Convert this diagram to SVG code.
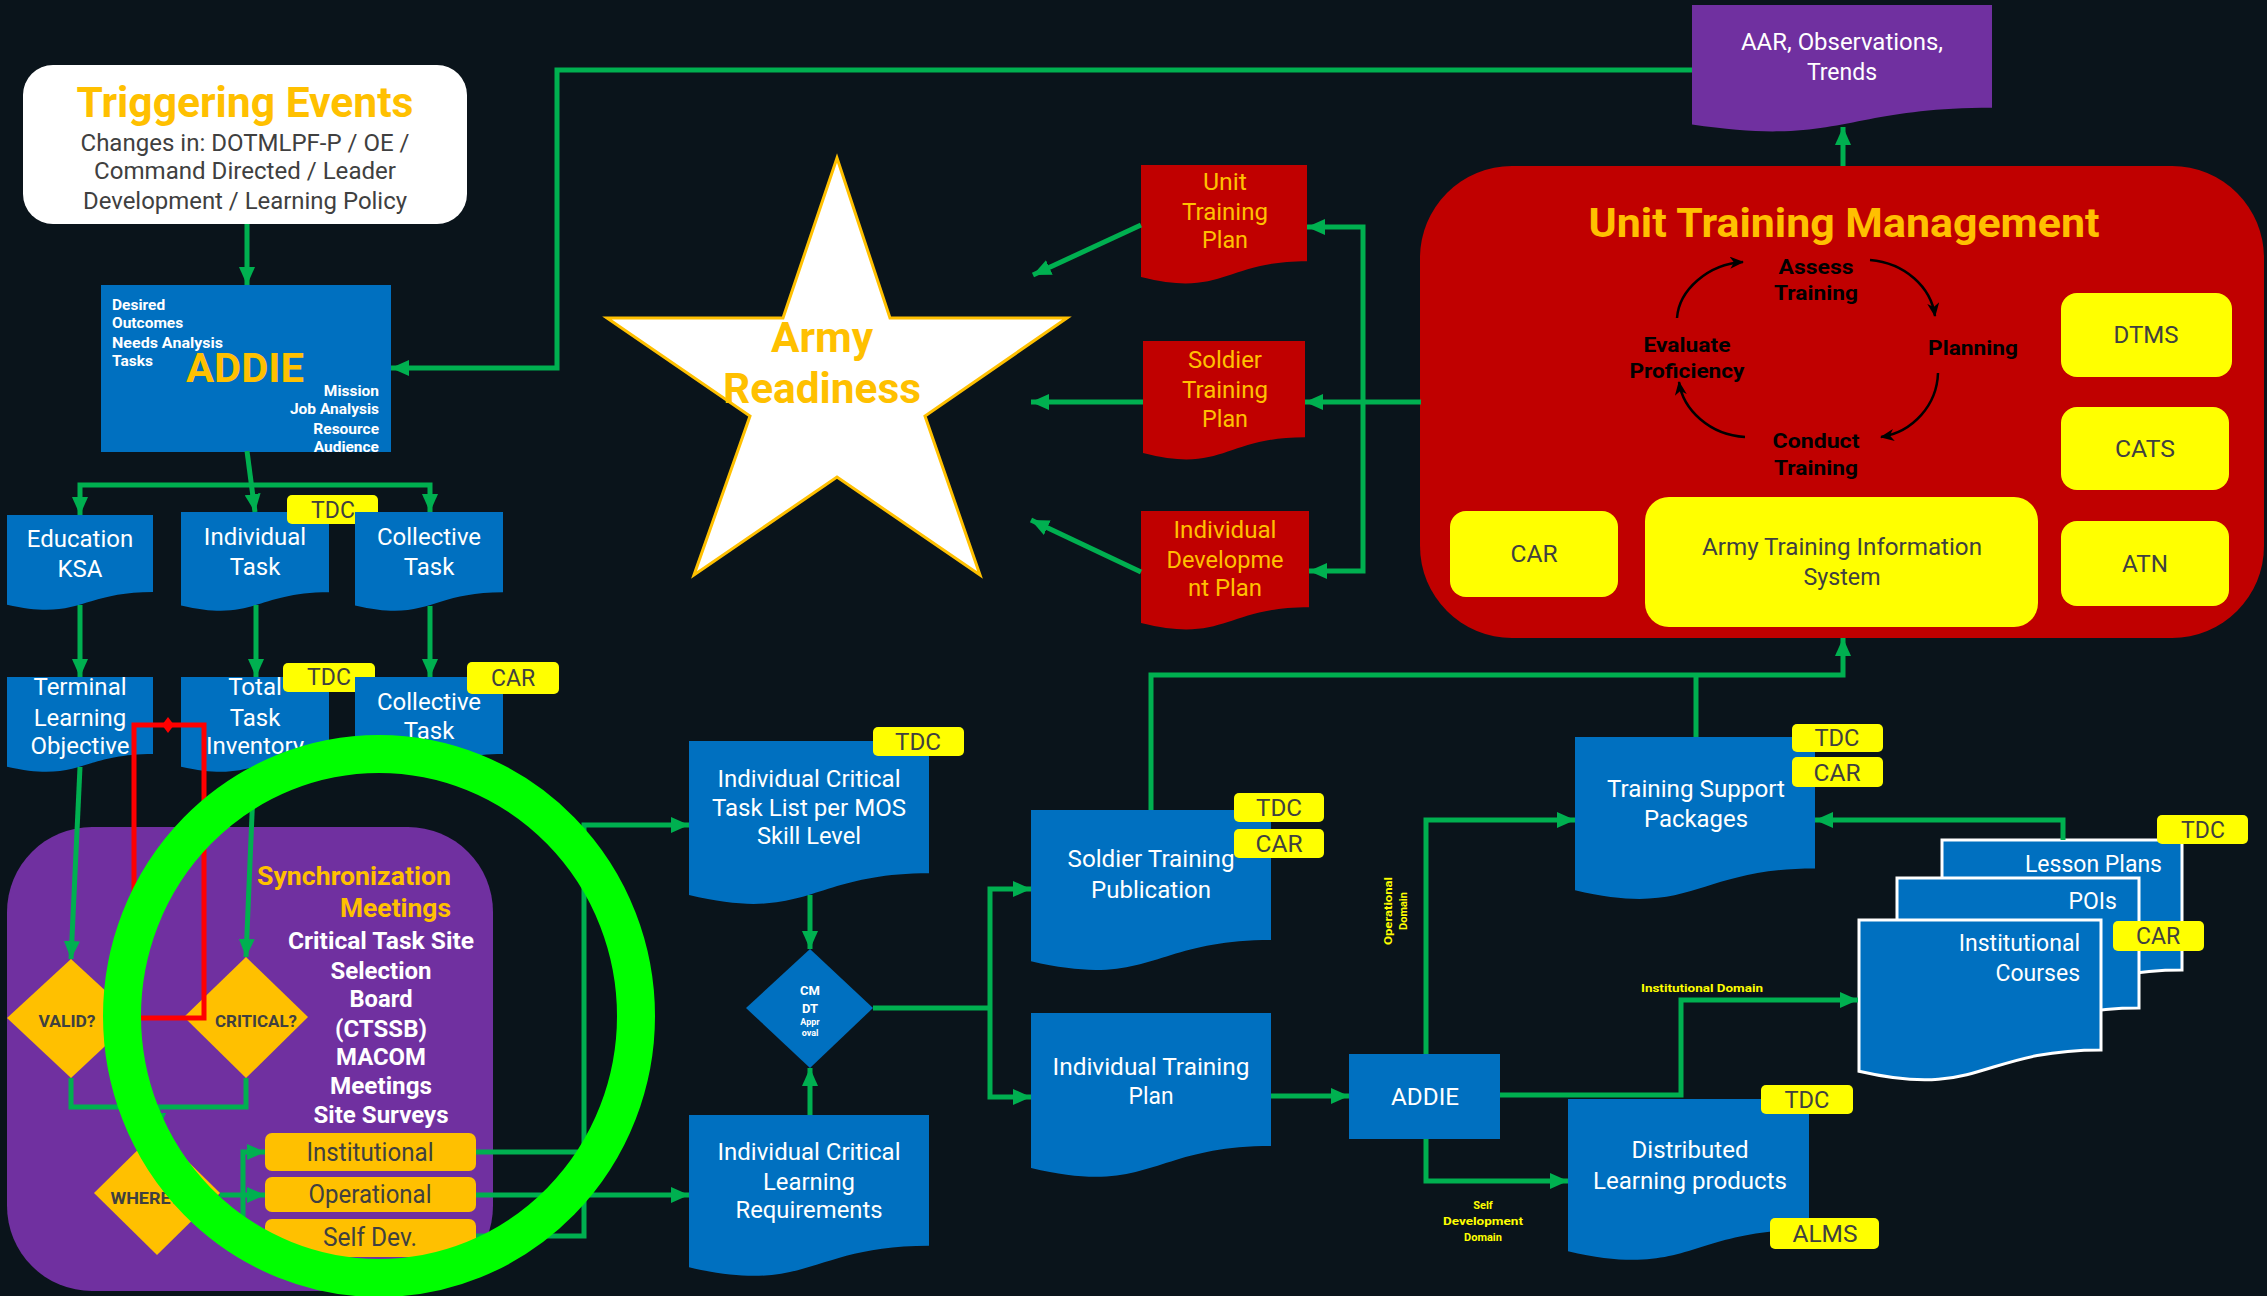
<svg xmlns="http://www.w3.org/2000/svg" width="2267" height="1296" viewBox="0 0 2267 1296">
<style>
  text { font-family: Roboto, "Liberation Sans", sans-serif; }
  .w { fill: #FFFFFF; }
  .dk { fill: #404040; }
  .gold { fill: #FFC000; }
  .yl { fill: #FFFF00; }
  .b { font-weight: bold; }
  .m { text-anchor: middle; }
  .e { text-anchor: end; }
  .doc { fill: #0070C0; }
  .reddoc { fill: #C00000; }
  .stack { fill: #0070C0; stroke: #FFFFFF; stroke-width: 3; }
  .tag { fill: #FFFF00; }
  .gtag { fill: #FFC000; }
  .conn path { fill: none; stroke: #00B050; stroke-width: 5; }
  .cyc { fill: none; stroke: #000000; stroke-width: 2.5; }
</style>
<defs>
  <marker id="ah" markerUnits="userSpaceOnUse" markerWidth="18" markerHeight="16" refX="18" refY="8" orient="auto">
    <path d="M0,0 L18,8 L0,16 Z" fill="#00B050"/>
  </marker>
  <marker id="bh" markerUnits="userSpaceOnUse" markerWidth="14" markerHeight="12" refX="13" refY="6" orient="auto">
    <path d="M0,0 L14,6 L0,12 L4,6 Z" fill="#000000"/>
  </marker>
</defs>

<rect width="2267" height="1296" fill="#0A141B"/>

<!-- Triggering events -->
<g id="triggering-events">
  <rect x="23" y="65" width="444" height="159" rx="30" fill="#FFFFFF"/>
  <text class="gold b m" x="245" y="117" font-size="42" textLength="337" lengthAdjust="spacingAndGlyphs">Triggering Events</text>
  <text class="dk m" x="245" y="151" font-size="24" textLength="329" lengthAdjust="spacingAndGlyphs">Changes in: DOTMLPF-P / OE /</text>
  <text class="dk m" x="245" y="179" font-size="24" textLength="302" lengthAdjust="spacingAndGlyphs">Command Directed / Leader</text>
  <text class="dk m" x="245" y="209" font-size="24" textLength="324" lengthAdjust="spacingAndGlyphs">Development / Learning Policy</text>
</g>

<!-- ADDIE (top) -->
<g id="addie-main">
  <rect x="101" y="285" width="290" height="167" fill="#0070C0"/>
  <g class="w b" font-size="15.5">
    <text x="112" y="310">Desired</text>
    <text x="112" y="328">Outcomes</text>
    <text x="112" y="348" textLength="111" lengthAdjust="spacingAndGlyphs">Needs Analysis</text>
    <text x="112" y="366">Tasks</text>
    <text class="e" x="379" y="396">Mission</text>
    <text class="e" x="379" y="414">Job Analysis</text>
    <text class="e" x="379" y="434">Resource</text>
    <text class="e" x="379" y="452">Audience</text>
  </g>
  <text class="gold b" x="186" y="382" font-size="41" textLength="118" lengthAdjust="spacingAndGlyphs">ADDIE</text>
</g>

<!-- AAR -->
<g id="aar">
  <path fill="#7030A0" d="M1692,5H1992V107.7C1842,107.7 1842,146.7 1692,124.6Z"/>
  <text class="w m" x="1842" y="50" font-size="23" textLength="202" lengthAdjust="spacingAndGlyphs">AAR, Observations,</text>
  <text class="w m" x="1842" y="80" font-size="23">Trends</text>
</g>

<!-- Left column documents -->
<g id="education-ksa">
  <path class="doc" d="M7,515H153V592C80,592 80,621.3 7,604.7Z"/>
  <text class="w m" x="80" y="547" font-size="24">Education</text>
  <text class="w m" x="80" y="577" font-size="24">KSA</text>
</g>
<g id="individual-task">
  <path class="doc" d="M181,512H329V592.2C255,592.2 255,622.7 181,605.4Z"/>
  <text class="w m" x="255" y="545" font-size="24">Individual</text>
  <text class="w m" x="255" y="575" font-size="24">Task</text>
  <rect class="tag" x="287" y="495" width="91" height="29" rx="5"/>
  <text class="dk m" x="333" y="518" font-size="23">TDC</text>
</g>
<g id="collective-task">
  <path class="doc" d="M355,512H503V592.2C429,592.2 429,622.7 355,605.4Z"/>
  <text class="w m" x="429" y="545" font-size="24">Collective</text>
  <text class="w m" x="429" y="575" font-size="24">Task</text>
</g>
<g id="terminal-learning-objective">
  <path class="doc" d="M7,677H153V754C80,754 80,783.3 7,766.7Z"/>
  <text class="w m" x="80" y="695" font-size="24">Terminal</text>
  <text class="w m" x="80" y="726" font-size="24">Learning</text>
  <text class="w m" x="80" y="754" font-size="24">Objective</text>
</g>
<g id="total-task-inventory">
  <path class="doc" d="M181,677H329V754C255,754 255,783.3 181,766.7Z"/>
  <text class="w m" x="255" y="695" font-size="24">Total</text>
  <text class="w m" x="255" y="726" font-size="24">Task</text>
  <text class="w m" x="255" y="754" font-size="24">Inventory</text>
  <rect class="tag" x="283" y="663" width="92" height="29" rx="5"/>
  <text class="dk m" x="329" y="685" font-size="23">TDC</text>
</g>
<g id="collective-task-2">
  <path class="doc" d="M355,677H503V754C429,754 429,783.3 355,766.7Z"/>
  <text class="w m" x="429" y="710" font-size="24">Collective</text>
  <text class="w m" x="429" y="739" font-size="24">Task</text>
  <rect class="tag" x="467" y="662" width="92" height="32" rx="5"/>
  <text class="dk m" x="513" y="686" font-size="23">CAR</text>
</g>

<!-- Synchronization meetings -->
<g id="synchronization">
  <rect x="7" y="827" width="486" height="464" rx="85" fill="#7030A0"/>
  <text class="gold b e" x="451" y="885" font-size="26" textLength="194" lengthAdjust="spacingAndGlyphs">Synchronization</text>
  <text class="gold b e" x="451" y="917" font-size="26" textLength="111" lengthAdjust="spacingAndGlyphs">Meetings</text>
  <g class="w b m" font-size="23">
    <text x="381" y="949" textLength="186" lengthAdjust="spacingAndGlyphs">Critical Task Site</text>
    <text x="381" y="979" textLength="101" lengthAdjust="spacingAndGlyphs">Selection</text>
    <text x="381" y="1007" textLength="63" lengthAdjust="spacingAndGlyphs">Board</text>
    <text x="381" y="1037" textLength="92" lengthAdjust="spacingAndGlyphs">(CTSSB)</text>
    <text x="381" y="1065" textLength="90" lengthAdjust="spacingAndGlyphs">MACOM</text>
    <text x="381" y="1094" textLength="102" lengthAdjust="spacingAndGlyphs">Meetings</text>
    <text x="381" y="1123" textLength="135" lengthAdjust="spacingAndGlyphs">Site Surveys</text>
  </g>
</g>
<g id="valid">
  <polygon points="71,959 135,1018 71,1078 7,1018" fill="#FFC000"/>
  <text class="dk b m" x="67" y="1027" font-size="16" textLength="57" lengthAdjust="spacingAndGlyphs">VALID?</text>
</g>
<g id="critical">
  <polygon points="246,957 308,1017 246,1078 184,1017" fill="#FFC000"/>
  <text class="dk b m" x="256" y="1027" font-size="16" textLength="82" lengthAdjust="spacingAndGlyphs">CRITICAL?</text>
</g>
<g id="where">
  <polygon points="157,1131 220,1193 157,1255 94,1193" fill="#FFC000"/>
  <text class="dk b m" x="145" y="1204" font-size="16" textLength="69" lengthAdjust="spacingAndGlyphs">WHERE?</text>
</g>
<g id="institutional">
  <rect class="gtag" x="265" y="1133" width="211" height="38" rx="7"/>
  <text class="dk m" x="370" y="1161" font-size="25" textLength="127" lengthAdjust="spacingAndGlyphs">Institutional</text>
</g>
<g id="operational">
  <rect class="gtag" x="265" y="1177" width="211" height="35" rx="7"/>
  <text class="dk m" x="370" y="1203" font-size="25" textLength="123" lengthAdjust="spacingAndGlyphs">Operational</text>
</g>
<g id="self-dev">
  <rect class="gtag" x="265" y="1219" width="211" height="38" rx="7"/>
  <text class="dk m" x="370" y="1246" font-size="25" textLength="94" lengthAdjust="spacingAndGlyphs">Self Dev.</text>
</g>

<!-- Army readiness star -->
<g id="army-readiness">
  <polygon points="837,158 890,318 1067,318 925,416 980,575 837,477 694,575 750,416 607,318 783,318" fill="#FFFFFF" stroke="#FFC000" stroke-width="3" stroke-linejoin="miter"/>
  <text class="gold b m" x="822" y="352" font-size="42" textLength="102" lengthAdjust="spacingAndGlyphs">Army</text>
  <text class="gold b m" x="822" y="403" font-size="42" textLength="198" lengthAdjust="spacingAndGlyphs">Readiness</text>
</g>

<!-- Plans -->
<g id="unit-training-plan">
  <path class="reddoc" d="M1141,165H1307V261.2C1224,261.2 1224,297.8 1141,277.1Z"/>
  <text class="gold m" x="1225" y="190" font-size="24" textLength="44" lengthAdjust="spacingAndGlyphs">Unit</text>
  <text class="gold m" x="1225" y="220" font-size="24" textLength="86" lengthAdjust="spacingAndGlyphs">Training</text>
  <text class="gold m" x="1225" y="248" font-size="24" textLength="46" lengthAdjust="spacingAndGlyphs">Plan</text>
</g>
<g id="soldier-training-plan">
  <path class="reddoc" d="M1143,341H1305V437.2C1224,437.2 1224,473.8 1143,453.1Z"/>
  <text class="gold m" x="1225" y="368" font-size="24" textLength="74" lengthAdjust="spacingAndGlyphs">Soldier</text>
  <text class="gold m" x="1225" y="398" font-size="24" textLength="86" lengthAdjust="spacingAndGlyphs">Training</text>
  <text class="gold m" x="1225" y="427" font-size="24" textLength="46" lengthAdjust="spacingAndGlyphs">Plan</text>
</g>
<g id="individual-development-plan">
  <path class="reddoc" d="M1141,511H1309V607.2C1225,607.2 1225,643.8 1141,623.1Z"/>
  <text class="gold m" x="1225" y="538" font-size="24" textLength="103" lengthAdjust="spacingAndGlyphs">Individual</text>
  <text class="gold m" x="1225" y="568" font-size="24" textLength="117" lengthAdjust="spacingAndGlyphs">Developme</text>
  <text class="gold m" x="1225" y="596" font-size="24" textLength="74" lengthAdjust="spacingAndGlyphs">nt Plan</text>
</g>

<!-- Unit training management -->
<g id="unit-training-management">
  <rect x="1420" y="166" width="844" height="472" rx="92" fill="#C00000"/>
  <text class="gold b m" x="1844" y="237" font-size="40" textLength="511" lengthAdjust="spacingAndGlyphs">Unit Training Management</text>
  <g class="b m" font-size="20" fill="#000000">
    <text x="1816" y="274" textLength="75" lengthAdjust="spacingAndGlyphs">Assess</text>
    <text x="1816" y="300" textLength="84" lengthAdjust="spacingAndGlyphs">Training</text>
    <text x="1973" y="355" textLength="90" lengthAdjust="spacingAndGlyphs">Planning</text>
    <text x="1687" y="352" textLength="87" lengthAdjust="spacingAndGlyphs">Evaluate</text>
    <text x="1687" y="378" textLength="115" lengthAdjust="spacingAndGlyphs">Proficiency</text>
    <text x="1816" y="448" textLength="87" lengthAdjust="spacingAndGlyphs">Conduct</text>
    <text x="1816" y="475" textLength="84" lengthAdjust="spacingAndGlyphs">Training</text>
  </g>
  <path class="cyc" marker-end="url(#bh)" d="M1677,318 C1679,290 1708,264 1743,262"/>
  <path class="cyc" marker-end="url(#bh)" d="M1870,260 C1905,263 1931,287 1935,316"/>
  <path class="cyc" marker-end="url(#bh)" d="M1938,373 C1937,405 1913,432 1881,437"/>
  <path class="cyc" marker-end="url(#bh)" d="M1745,437 C1710,435 1683,410 1679,382"/>
  <rect class="tag" x="2061" y="293" width="171" height="84" rx="16"/>
  <text class="dk m" x="2146" y="343" font-size="23" textLength="65" lengthAdjust="spacingAndGlyphs">DTMS</text>
  <rect class="tag" x="2061" y="407" width="168" height="83" rx="16"/>
  <text class="dk m" x="2145" y="457" font-size="23" textLength="60" lengthAdjust="spacingAndGlyphs">CATS</text>
  <rect class="tag" x="2061" y="521" width="168" height="85" rx="16"/>
  <text class="dk m" x="2145" y="572" font-size="23" textLength="46" lengthAdjust="spacingAndGlyphs">ATN</text>
  <rect class="tag" x="1450" y="511" width="168" height="86" rx="16"/>
  <text class="dk m" x="1534" y="562" font-size="23" textLength="47" lengthAdjust="spacingAndGlyphs">CAR</text>
  <rect class="tag" x="1645" y="497" width="393" height="130" rx="24"/>
  <text class="dk m" x="1842" y="555" font-size="23" textLength="280" lengthAdjust="spacingAndGlyphs">Army Training Information</text>
  <text class="dk m" x="1842" y="585" font-size="23" textLength="77" lengthAdjust="spacingAndGlyphs">System</text>
</g>

<!-- Middle column -->
<g id="critical-task-list">
  <path class="doc" d="M689,741H929V873.3C809,873.3 809,923.7 689,895.1Z"/>
  <text class="w m" x="809" y="787" font-size="24" textLength="183" lengthAdjust="spacingAndGlyphs">Individual Critical</text>
  <text class="w m" x="809" y="816" font-size="24" textLength="194" lengthAdjust="spacingAndGlyphs">Task List per MOS</text>
  <text class="w m" x="809" y="844" font-size="24" textLength="104" lengthAdjust="spacingAndGlyphs">Skill Level</text>
  <rect class="tag" x="873" y="727" width="91" height="29" rx="5"/>
  <text class="dk m" x="918" y="750" font-size="23" textLength="46" lengthAdjust="spacingAndGlyphs">TDC</text>
</g>
<g id="cmdt-approval">
  <polygon points="810,949 873,1008 810,1068 746,1008" fill="#0070C0"/>
  <text class="w b m" x="810" y="995" font-size="13">CM</text>
  <text class="w b m" x="810" y="1013" font-size="13">DT</text>
  <text class="w b m" x="810" y="1025" font-size="9">Appr</text>
  <text class="w b m" x="810" y="1036" font-size="9">oval</text>
</g>
<g id="critical-learning-requirements">
  <path class="doc" d="M689,1115H929V1245.7C809,1245.7 809,1295.4 689,1267.2Z"/>
  <text class="w m" x="809" y="1160" font-size="24" textLength="183" lengthAdjust="spacingAndGlyphs">Individual Critical</text>
  <text class="w m" x="809" y="1190" font-size="24" textLength="92" lengthAdjust="spacingAndGlyphs">Learning</text>
  <text class="w m" x="809" y="1218" font-size="24" textLength="147" lengthAdjust="spacingAndGlyphs">Requirements</text>
</g>
<g id="soldier-training-publication">
  <path class="doc" d="M1031,810H1271V939.9C1151,939.9 1151,989.3 1031,961.3Z"/>
  <text class="w m" x="1151" y="867" font-size="24" textLength="167" lengthAdjust="spacingAndGlyphs">Soldier Training</text>
  <text class="w m" x="1151" y="898" font-size="24" textLength="120" lengthAdjust="spacingAndGlyphs">Publication</text>
  <rect class="tag" x="1234" y="793" width="90" height="29" rx="5"/>
  <text class="dk m" x="1279" y="816" font-size="23" textLength="46" lengthAdjust="spacingAndGlyphs">TDC</text>
  <rect class="tag" x="1234" y="829" width="90" height="29" rx="5"/>
  <text class="dk m" x="1279" y="852" font-size="23" textLength="47" lengthAdjust="spacingAndGlyphs">CAR</text>
</g>
<g id="individual-training-plan">
  <path class="doc" d="M1031,1013H1271V1146.1C1151,1146.1 1151,1196.8 1031,1168Z"/>
  <text class="w m" x="1151" y="1075" font-size="24" textLength="197" lengthAdjust="spacingAndGlyphs">Individual Training</text>
  <text class="w m" x="1151" y="1104" font-size="24" textLength="45" lengthAdjust="spacingAndGlyphs">Plan</text>
</g>
<g id="addie-2">
  <rect x="1349" y="1054" width="151" height="85" fill="#0070C0"/>
  <text class="w m" x="1425" y="1105" font-size="24" textLength="68" lengthAdjust="spacingAndGlyphs">ADDIE</text>
</g>
<g id="training-support-packages">
  <path class="doc" d="M1575,737H1815V868.5C1695,868.5 1695,918.5 1575,890.2Z"/>
  <text class="w m" x="1696" y="797" font-size="24" textLength="178" lengthAdjust="spacingAndGlyphs">Training Support</text>
  <text class="w m" x="1696" y="827" font-size="24" textLength="104" lengthAdjust="spacingAndGlyphs">Packages</text>
  <rect class="tag" x="1792" y="724" width="91" height="28" rx="5"/>
  <text class="dk m" x="1837" y="746" font-size="23" textLength="45" lengthAdjust="spacingAndGlyphs">TDC</text>
  <rect class="tag" x="1792" y="757" width="91" height="30" rx="5"/>
  <text class="dk m" x="1837" y="781" font-size="23" textLength="47" lengthAdjust="spacingAndGlyphs">CAR</text>
</g>
<g id="distributed-learning">
  <path class="doc" d="M1568,1099H1809V1229.7C1688.5,1229.7 1688.5,1279.4 1568,1251.2Z"/>
  <text class="w m" x="1690" y="1158" font-size="24" textLength="117" lengthAdjust="spacingAndGlyphs">Distributed</text>
  <text class="w m" x="1690" y="1189" font-size="24" textLength="194" lengthAdjust="spacingAndGlyphs">Learning products</text>
  <rect class="tag" x="1761" y="1085" width="92" height="29" rx="5"/>
  <text class="dk m" x="1807" y="1108" font-size="23" textLength="45" lengthAdjust="spacingAndGlyphs">TDC</text>
  <rect class="tag" x="1770" y="1218" width="109" height="31" rx="5"/>
  <text class="dk m" x="1825" y="1242" font-size="23" textLength="65" lengthAdjust="spacingAndGlyphs">ALMS</text>
</g>
<g id="institutional-products">
  <path class="stack" d="M1942,840H2182V969.9C2062,969.9 2062,1019.3 1942,991.3Z"/>
  <path class="stack" d="M1897,878H2139V1007.9C2018,1007.9 2018,1057.3 1897,1029.3Z"/>
  <path class="stack" d="M1859,920H2101V1049.9C1980,1049.9 1980,1099.3 1859,1071.3Z"/>
  <text class="w e" x="2162" y="872" font-size="23">Lesson Plans</text>
  <text class="w e" x="2117" y="909" font-size="23">POIs</text>
  <text class="w e" x="2080" y="951" font-size="23">Institutional</text>
  <text class="w e" x="2080" y="981" font-size="23">Courses</text>
  <rect class="tag" x="2157" y="815" width="91" height="29" rx="5"/>
  <text class="dk m" x="2203" y="838" font-size="23">TDC</text>
  <rect class="tag" x="2113" y="921" width="91" height="30" rx="5"/>
  <text class="dk m" x="2158" y="944" font-size="23">CAR</text>
</g>

<!-- Domain labels -->
<g class="yl b" font-size="11">
  <g transform="translate(1392,911) rotate(-90)">
    <text class="m" x="0" y="0" textLength="68" lengthAdjust="spacingAndGlyphs">Operational</text>
    <text class="m" x="0" y="15">Domain</text>
  </g>
  <text class="m" x="1702" y="992" textLength="122" lengthAdjust="spacingAndGlyphs">Institutional Domain</text>
  <text class="m" x="1483" y="1209">Self</text>
  <text class="m" x="1483" y="1225" textLength="80" lengthAdjust="spacingAndGlyphs">Development</text>
  <text class="m" x="1483" y="1241">Domain</text>
</g>

<!-- Connectors -->
<g id="connectors" class="conn">
  <path marker-end="url(#ah)" d="M247,224 V285"/>
  <path marker-end="url(#ah)" d="M1692,70 H557 V368 H391"/>
  <path marker-end="url(#ah)" d="M247,451 L255,512"/>
  <path marker-end="url(#ah)" d="M248,485 H80 V515"/>
  <path marker-end="url(#ah)" d="M248,485 H430 V512"/>
  <path marker-end="url(#ah)" d="M80,605 V677"/>
  <path marker-end="url(#ah)" d="M256,605 V677"/>
  <path marker-end="url(#ah)" d="M430,606 V677"/>
  <path marker-end="url(#ah)" d="M80,767 L71,959"/>
  <path marker-end="url(#ah)" d="M254,767 L246,957"/>
  <path d="M71,1078 V1107 H246 V1078"/>
  <path marker-end="url(#ah)" d="M158,1107 V1131"/>
  <path marker-end="url(#ah)" d="M220,1195 H265"/>
  <path marker-end="url(#ah)" d="M243,1195 V1152 H265"/>
  <path marker-end="url(#ah)" d="M243,1195 V1237 H265"/>
  <path marker-end="url(#ah)" d="M476,1152 H584 V825 H689"/>
  <path marker-end="url(#ah)" d="M476,1195 H689"/>
  <path d="M476,1236 H584 V1150"/>
  <path marker-end="url(#ah)" d="M810,895 V949"/>
  <path marker-end="url(#ah)" d="M810,1115 V1068"/>
  <path d="M873,1008 H990"/>
  <path marker-end="url(#ah)" d="M990,1008 V889 H1031"/>
  <path marker-end="url(#ah)" d="M990,1008 V1097 H1031"/>
  <path marker-end="url(#ah)" d="M1271,1096 H1349"/>
  <path marker-end="url(#ah)" d="M1426,1054 V820 H1575"/>
  <path marker-end="url(#ah)" d="M1500,1095 H1681 V1000 H1858"/>
  <path marker-end="url(#ah)" d="M1426,1139 V1181 H1568"/>
  <path marker-end="url(#ah)" d="M2063,840 V820 H1815"/>
  <path marker-end="url(#ah)" d="M1151,810 V675 H1843 V638"/>
  <path d="M1696,737 V675"/>
  <path marker-end="url(#ah)" d="M1843,166 V127"/>
  <path d="M1421,402 H1363"/>
  <path marker-end="url(#ah)" d="M1363,402 V227 H1307"/>
  <path marker-end="url(#ah)" d="M1363,402 H1305"/>
  <path marker-end="url(#ah)" d="M1363,402 V571 H1309"/>
  <path marker-end="url(#ah)" d="M1141,225 L1033,275"/>
  <path marker-end="url(#ah)" d="M1143,402 H1031"/>
  <path marker-end="url(#ah)" d="M1141,572 L1031,520"/>
</g>

<!-- Red loop between the task boxes -->
<g id="red-loop">
  <rect x="134" y="725" width="70" height="293" fill="none" stroke="#FF0000" stroke-width="5"/>
  <polygon points="168,717 174,725 168,733 162,725" fill="#FF0000"/>
</g>

<!-- Highlight ring -->
<ellipse id="highlight-ring" cx="379" cy="1016" rx="257" ry="262" fill="none" stroke="#00FF00" stroke-width="38"/>
</svg>
